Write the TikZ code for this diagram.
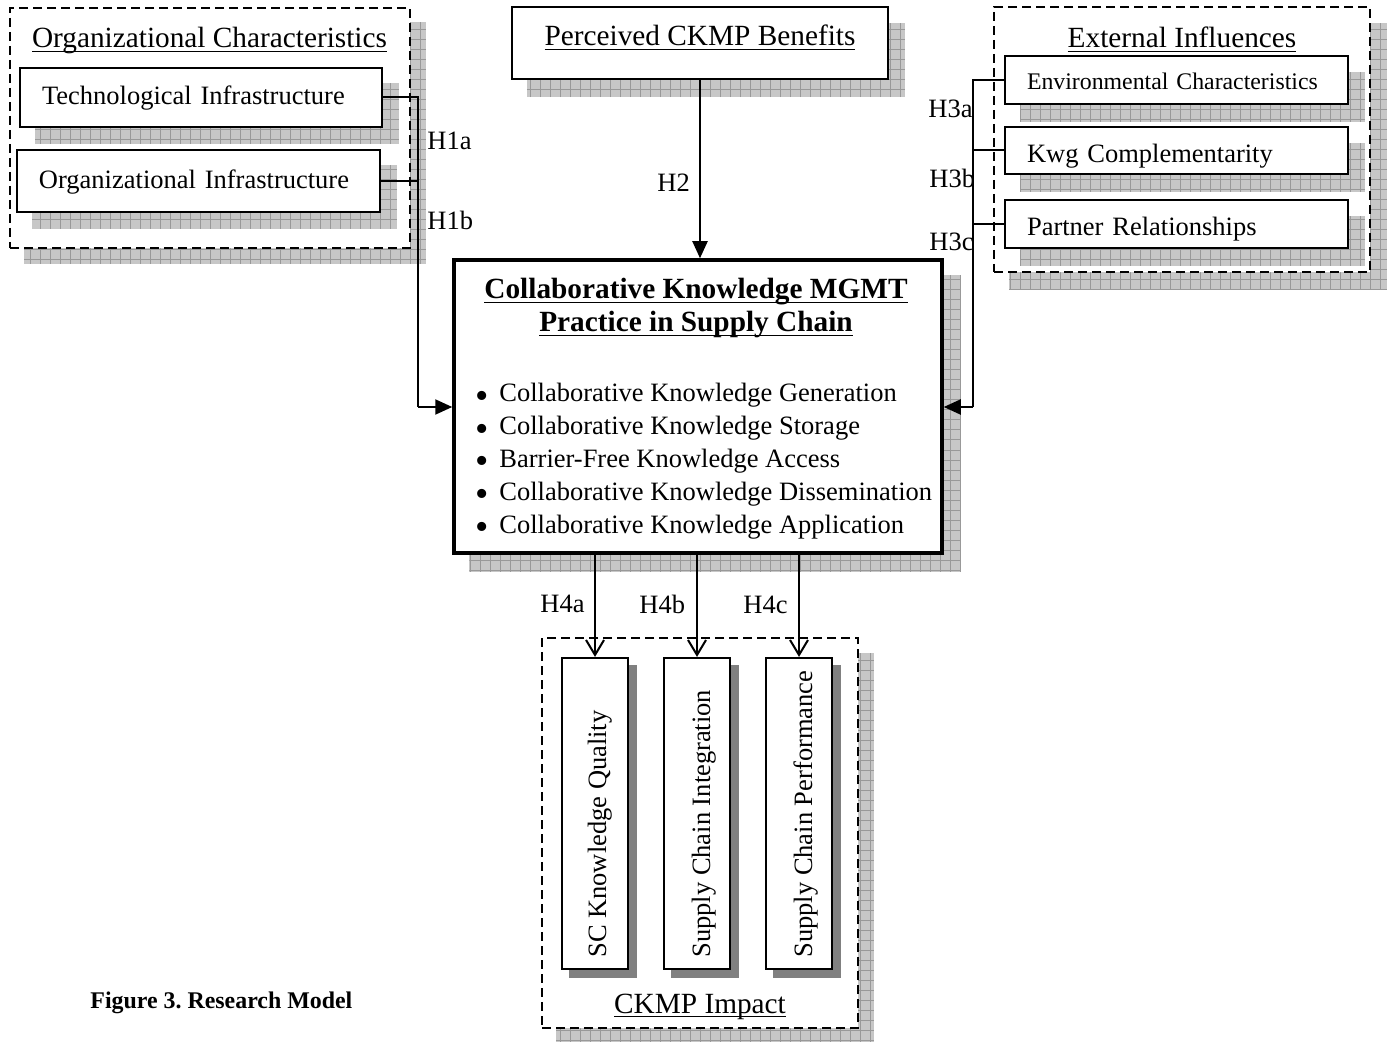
\documentclass[tikz,border=0pt]{standalone}
\usepackage{fontspec}
\setmainfont{Liberation Serif}
\usetikzlibrary{arrows.meta}
\frenchspacing
\pgfdeclarelayer{shA}
\pgfdeclarelayer{contA}
\pgfdeclarelayer{shB}
\pgfsetlayers{shA,contA,shB,main}
\definecolor{shfill}{gray}{0.78}
\definecolor{shline}{gray}{0.60}
\newsavebox{\myulbox}
\newcommand{\myul}[1]{\sbox{\myulbox}{#1}\rlap{\rule[-2pt]{\wd\myulbox}{0.7pt}}\usebox{\myulbox}}
\newcommand{\fsreg}{\fontsize{13.25pt}{15pt}\selectfont}
\newcommand{\fshead}{\fontsize{14.65pt}{16.5pt}\selectfont}
\newcommand{\fssmall}{\fontsize{11.9pt}{14pt}\selectfont}
\newcommand{\fscap}{\fontsize{11.95pt}{14pt}\selectfont}
\newcommand{\mybul}{\smash{\raisebox{-3.2pt}{\fontsize{19pt}{19pt}\selectfont\textbullet}}\hspace{5.1pt}}
\begin{document}
\begin{tikzpicture}[x=0.5pt,y=-0.5pt,
  conn/.style={line width=1pt},
  tri/.style={-{Triangle[length=8.5pt,width=7.5pt]}},
  barb/.style={-{Straight Barb[length=7.5pt,width=9pt,line width=1pt]}},
  box/.style={draw, line width=1pt, fill=white, inner xsep=11pt, inner ysep=0pt, align=left},
  cont/.style={draw, line width=1pt, dash pattern=on 4.5pt off 2.5pt, fill=white, inner sep=0pt},
  gridsh/.style={fill=shfill, path picture={\draw[shline, line width=0.5pt] (path picture bounding box.south west) grid[step=5pt] (path picture bounding box.north east);}},
  solidsh/.style={fill=black!50},
  vbox/.style={draw, line width=1.1pt, fill=white, inner sep=0pt, minimum width=33pt, minimum height=155.5pt},
  vtxt/.style={rotate=90, anchor=base west, inner sep=0pt, font=\fsreg},
  lbl/.style={anchor=base west, inner sep=0pt, font=\fsreg},
  ttl/.style={anchor=base, inner sep=0pt, font=\fshead}]

\useasboundingbox (0,0) rectangle (1390,1042);

% ---------- containers ----------
\begin{pgfonlayer}{contA}
\node[cont, minimum width=200pt, minimum height=120pt] (oc) at (210,128) {};
\node[cont, minimum width=188pt, minimum height=132.5pt] (ei) at (1182,139.5) {};
\node[cont, minimum width=158pt, minimum height=195pt] (ci) at (700,833) {};
\end{pgfonlayer}

\node[ttl] (oct) at (209.5,48) {\myul{Organizational Characteristics}};
\node[ttl] (eit) at (1182,48) {\myul{External Influences}};
\node[ttl] (cit) at (700,1013) {\myul{CKMP Impact}};

% ---------- boxes ----------
\node[box, minimum width=181pt, minimum height=29.5pt, text width=159pt, text height=7.5pt, text depth=0pt, font=\fsreg] (ti) at (201,97.5) {\mbox{Technological Infrastructure}};
\node[box, minimum width=181.5pt, minimum height=31pt, text width=159.5pt, text height=8pt, text depth=0pt, font=\fsreg] (oi) at (198.5,181) {\mbox{Organizational Infrastructure}};

\node[box, line width=1.2pt, inner xsep=0pt, minimum width=188pt, minimum height=36pt, text height=3pt, text depth=0pt, font=\fshead] (pcb) at (700,43) {\myul{Perceived CKMP Benefits}};

\node[box, minimum width=171.5pt, minimum height=24pt, text width=149.5pt, text height=10pt, text depth=0pt, font=\fssmall] (env) at (1176.5,80) {\mbox{Environmental Characteristics}};
\node[box, minimum width=171.5pt, minimum height=23.5pt, text width=149.5pt, text height=12pt, text depth=0pt, font=\fsreg] (kwg) at (1176.5,150.5) {\mbox{Kwg Complementarity}};
\node[box, minimum width=171.5pt, minimum height=24pt, text width=149.5pt, text height=11.5pt, text depth=0pt, font=\fsreg] (par) at (1176.5,224) {\mbox{Partner Relationships}};

\node[draw, line width=1.75pt, fill=white, inner sep=0pt, minimum width=244pt, minimum height=146.5pt] (ckm) at (698,406.5) {};
\node[ttl, font=\fshead\bfseries] (hd1) at (696,299) {\myul{Collaborative Knowledge MGMT}};
\node[ttl, font=\fshead\bfseries] (hd2) at (696,332) {\myul{Practice in Supply Chain}};
\node[lbl] (b1) at (475.5,402) {\mybul Collaborative Knowledge Generation};
\node[lbl] (b2) at (475.5,434.75) {\mybul Collaborative Knowledge Storage};
\node[lbl] (b3) at (475.5,467.5) {\mybul Barrier-Free Knowledge Access};
\node[lbl] (b4) at (475.5,500.25) {\mybul Collaborative Knowledge Dissemination};
\node[lbl] (b5) at (475.5,533) {\mybul Collaborative Knowledge Application};

\node[vbox] (q1) at (595,813.5) {};
\node[vbox] (q2) at (697,813.5) {};
\node[vbox] (q3) at (799,813.5) {};
\node[vtxt] (q1t) at ([shift={(11,-12)}]q1.south) {SC Knowledge Quality};
\node[vtxt] (q2t) at ([shift={(13,-12)}]q2.south) {Supply Chain Integration};
\node[vtxt] (q3t) at ([shift={(13,-12)}]q3.south) {Supply Chain Performance};

% ---------- shadows ----------
\begin{pgfonlayer}{shA}
\path[gridsh] ([shift={(15,15)}]oc.north west) rectangle ([shift={(15,15)}]oc.south east);
\path[gridsh] ([shift={(16,17)}]ei.north west) rectangle ([shift={(16,17)}]ei.south east);
\path[gridsh] ([shift={(15,16)}]ci.north west) rectangle ([shift={(15,16)}]ci.south east);
\end{pgfonlayer}
\begin{pgfonlayer}{shB}
\path[gridsh] ([shift={(16,16)}]ti.north west) rectangle ([shift={(16,16)}]ti.south east);
\path[gridsh] ([shift={(16,16)}]oi.north west) rectangle ([shift={(16,16)}]oi.south east);
\path[gridsh] ([shift={(16,17)}]pcb.north west) rectangle ([shift={(16,17)}]pcb.south east);
\path[gridsh] ([shift={(16,17)}]env.north west) rectangle ([shift={(16,17)}]env.south east);
\path[gridsh] ([shift={(16,17)}]kwg.north west) rectangle ([shift={(16,17)}]kwg.south east);
\path[gridsh] ([shift={(16,17)}]par.north west) rectangle ([shift={(16,17)}]par.south east);
\path[gridsh] ([shift={(17,17)}]ckm.north west) rectangle ([shift={(17,17)}]ckm.south east);
\path[solidsh] ([shift={(8,8)}]q1.north west) rectangle ([shift={(8,8)}]q1.south east);
\path[solidsh] ([shift={(8,8)}]q2.north west) rectangle ([shift={(8,8)}]q2.south east);
\path[solidsh] ([shift={(8,8)}]q3.north west) rectangle ([shift={(8,8)}]q3.south east);
\end{pgfonlayer}

% ---------- connectors ----------
\coordinate (hl) at (418,407);
\draw[conn] (ti.east) -| (hl);
\draw[conn] (oi.east) -- (oi.east -| hl);
\draw[conn, tri] (hl) -- (hl -| ckm.west);

\draw[conn, tri] (pcb.south) -- (pcb.south |- ckm.north);

\coordinate (hr) at (973,407);
\draw[conn] (env.west) -| (hr);
\draw[conn] (kwg.west) -- (kwg.west -| hr);
\draw[conn] (par.west) -- (par.west -| hr);
\draw[conn, tri] (hr) -- (hr -| ckm.east);

\draw[conn, barb] (q1.north |- ckm.south) -- (q1.north);
\draw[conn, barb] (q2.north |- ckm.south) -- (q2.north);
\draw[conn, barb] (q3.north |- ckm.south) -- (q3.north);

% ---------- labels ----------
\node[lbl] (l1a) at (427,150) {H1a};
\node[lbl] (l1b) at (427,230) {H1b};
\node[lbl] (l2) at (657,192) {H2};
\node[lbl] (l3a) at (928,118) {H3a};
\node[lbl] (l3b) at (929,188) {H3b};
\node[lbl] (l3c) at (929,251) {H3c};
\node[lbl] (l4a) at (540,612) {H4a};
\node[lbl] (l4b) at (639,613) {H4b};
\node[lbl] (l4c) at (743,613) {H4c};

\node[anchor=base west, inner sep=0pt, font=\fscap\bfseries] (cap) at (90,1008) {Figure 3. Research Model};
\end{tikzpicture}
\end{document}
